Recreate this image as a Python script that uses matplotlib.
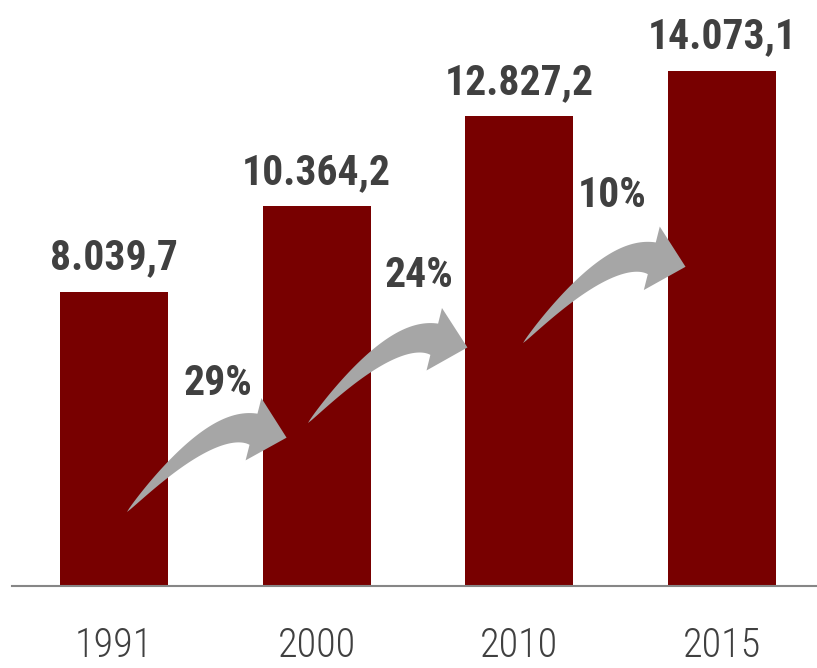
import numpy as np
import matplotlib
matplotlib.use("Agg")
import matplotlib.pyplot as plt
from matplotlib.patches import Polygon

# datos
years = ["1991", "2000", "2010", "2015"]
values = [8039.7, 10364.2, 12827.2, 14073.1]

# flechas de crecimiento: (cola x, cola y, punta x, punta y) en coordenadas de datos
arrow_tails = [(0.064, 2020), (0.957, 4450), (2.018, 6634)]
arrow_tips = [(0.854, 4177), (1.746, 6640), (2.822, 8845)]
# posicion de las etiquetas de crecimiento
growth_pos = [(0.513, 5540), (1.505, 8490), (2.46, 10650)]

bar_color = "#780000"
text_color = "#404040"
arrow_color = "#a6a6a6"
fonts = ["Roboto Condensed", "Liberation Sans Narrow", "DejaVu Sans"]

def fmt(v):
    s = f"{v:,.1f}"
    return s.replace(",", "X").replace(".", ",").replace("X", ".")

fig = plt.figure(figsize=(8.17, 6.68), dpi=100)
ax = fig.add_axes([12 / 817, 82 / 668, 805 / 817, 586 / 668])
x = np.arange(len(years))
ax.bar(x, values, width=0.533, color=bar_color, zorder=2)
ax.set_xlim(-0.503, 3.468)
ax.set_ylim(0, 16000)

for s in ["top", "right", "left"]:
    ax.spines[s].set_visible(False)
ax.spines["bottom"].set_color("#868686")
ax.spines["bottom"].set_linewidth(1.5)
ax.set_yticks([])
ax.set_xticks(x)
ax.set_xticklabels(years, fontsize=29, color=text_color, family=fonts,
                   fontweight="light")
ax.tick_params(axis="x", length=0, pad=29)

for xi, v in zip(x, values):
    ax.annotate(fmt(v), (xi, v), xytext=(0, 16), textcoords="offset points",
                ha="center", va="baseline", fontsize=30, fontweight="bold",
                color=text_color, family=fonts, annotation_clip=False)

# variacion porcentual
for i, (gx, gy) in enumerate(growth_pos):
    pct = (values[i + 1] / values[i] - 1) * 100
    ax.text(gx, gy, f"{pct:.0f}%", ha="center", va="center", fontsize=30,
            fontweight="bold", color=text_color, family=fonts)

# forma base de la flecha curva (en pixeles, cola en 0,0)
t = np.linspace(0, 1, 60)
P0 = np.array([0.0, 0.0])
P1 = np.array([82.8, 94.0])
P2 = np.array([125.5, 83.5])
curve = ((1 - t) ** 2)[:, None] * P0 + (2 * (1 - t) * t)[:, None] * P1 + (t ** 2)[:, None] * P2
deriv = (2 * (1 - t))[:, None] * (P1 - P0) + (2 * t)[:, None] * (P2 - P1)
normal = np.column_stack([-deriv[:, 1], deriv[:, 0]])
normal /= np.linalg.norm(normal, axis=1)[:, None]
half_w = 16 * t ** 0.75
upper = curve + normal * half_w[:, None]
lower = curve - normal * half_w[:, None]
d_end = deriv[-1] / np.linalg.norm(deriv[-1])
n_end = normal[-1]
head = [P2 + n_end * 32, P2 + d_end * 34, P2 - n_end * 32]
shape = np.vstack([upper, head, lower[::-1]])
base_vec = complex(159, 80)

fig.canvas.draw()
to_px = ax.transData.transform
to_data = ax.transData.inverted().transform
for tail, tip in zip(arrow_tails, arrow_tips):
    tp = to_px(tail)
    hp = to_px(tip)
    rot = complex(hp[0] - tp[0], hp[1] - tp[1]) / base_vec
    z = (shape[:, 0] + 1j * shape[:, 1]) * rot
    pts = np.column_stack([z.real + tp[0], z.imag + tp[1]])
    ax.add_patch(Polygon(to_data(pts), closed=True, facecolor=arrow_color,
                         edgecolor="none", zorder=3, clip_on=False))

fig.savefig("out.png", dpi=100)
